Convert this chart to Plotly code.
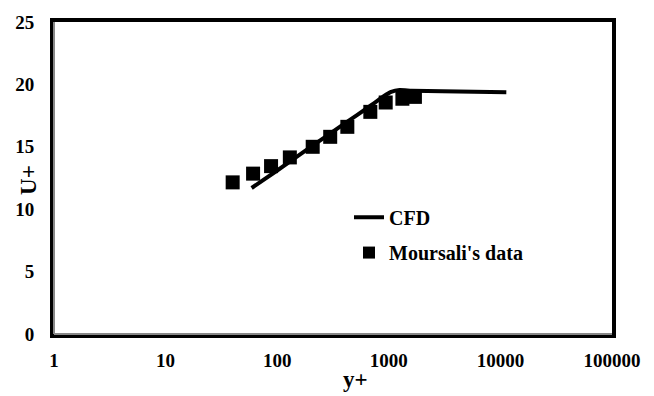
import plotly.graph_objects as go

# CFD profile (y+, U+)
cfd_y = [59, 100, 200, 400, 700, 900, 1050, 1250, 1600, 3000, 11300]
cfd_u = [11.7, 13.1, 15.0, 16.85, 18.35, 19.05, 19.4, 19.55, 19.5, 19.45, 19.37]

# Moursali's data (y+, U+)
exp_y = [39.9, 60.8, 88.1, 129.8, 208, 298.5, 425, 683, 938, 1324, 1714]
exp_u = [12.15, 12.85, 13.45, 14.15, 15.0, 15.8, 16.6, 17.8, 18.55, 18.85, 19.0]

x_tickvals = [1, 10, 100, 1000, 10000, 100000]
x_ticktext = ["1", "10", "100", "1000", "10000", "100000"]
y_tickvals = [0, 5, 10, 15, 20, 25]

FONT = "Liberation Serif, Times New Roman, serif"

fig = go.Figure()
fig.add_trace(go.Scatter(
    x=cfd_y, y=cfd_u, mode="lines", name="CFD",
    line=dict(color="black", width=4, shape="spline", smoothing=0.5),
    legend="legend",
))
fig.add_trace(go.Scatter(
    x=exp_y, y=exp_u, mode="markers", name="Moursali's data",
    marker=dict(symbol="square", size=14, color="black"),
    legend="legend2",
))

LX = (349 - 54) / 558

fig.update_layout(
    width=654, height=396,
    showlegend=True,
    margin=dict(l=54, r=42, t=16, b=62),
    paper_bgcolor="white", plot_bgcolor="white",
    font=dict(family=FONT, color="black"),
    legend=dict(x=LX, y=(334 - 215) / 318, xanchor="left", yanchor="middle",
                bgcolor="rgba(0,0,0,0)",
                font=dict(family=FONT, size=20, weight="bold", color="black")),
    legend2=dict(x=LX, y=(334 - 251) / 318, xanchor="left", yanchor="middle",
                 bgcolor="rgba(0,0,0,0)", itemsizing="constant",
                 font=dict(family=FONT, size=20, weight="bold", color="black")),
    xaxis=dict(
        type="log", range=[0, 5], tickvals=x_tickvals, ticktext=x_ticktext,
        showgrid=False, zeroline=False, showline=True, linecolor="black",
        linewidth=4, mirror=True, ticks="", ticklabelstandoff=6,
        tickfont=dict(family=FONT, size=19, weight="bold", color="black"),
    ),
    yaxis=dict(
        range=[0, 25], tickvals=y_tickvals,
        showgrid=False, zeroline=False, showline=True, linecolor="black",
        linewidth=4, mirror=True, ticks="", ticklabelstandoff=12,
        tickfont=dict(family=FONT, size=19, weight="bold", color="black"),
    ),
    annotations=[
        dict(text="y+", xref="paper", yref="paper", x=(355 - 54) / 558, y=(334 - 380) / 318,
             showarrow=False, xanchor="center", yanchor="middle",
             font=dict(family=FONT, size=23, weight="bold", color="black")),
        dict(text="U+", xref="paper", yref="paper", x=(29 - 54) / 558, y=(334 - 177) / 318,
             showarrow=False, xanchor="center", yanchor="middle", textangle=-90,
             font=dict(family=FONT, size=23, weight="bold", color="black")),
    ],
    shapes=[
        dict(type="line", xref="paper", yref="paper", x0=0, x1=0, y0=0, y1=1,
             line=dict(color="#888888", width=2)),
        dict(type="line", xref="paper", yref="paper", x0=0, x1=1, y0=0, y1=0,
             line=dict(color="#888888", width=2)),
    ],
)

fig.write_html("out.html")
